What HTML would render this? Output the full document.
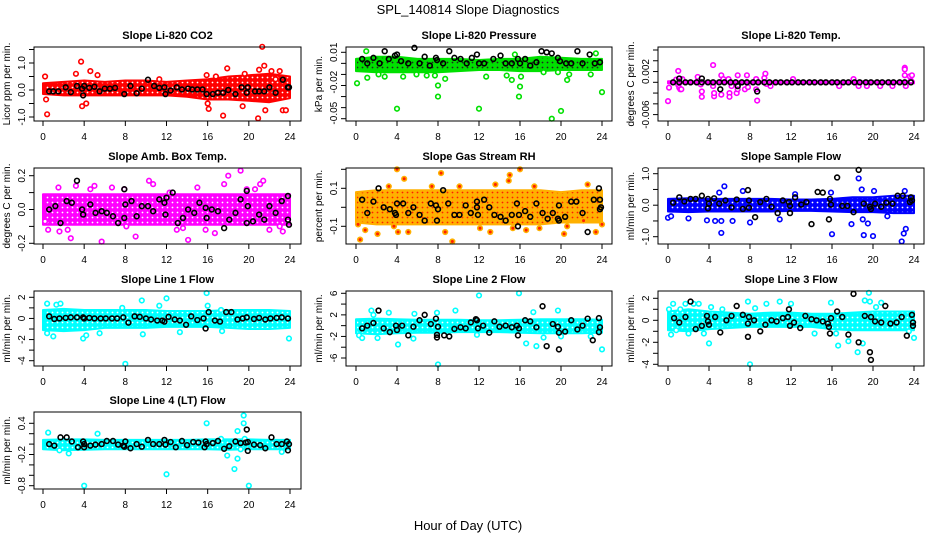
<!DOCTYPE html>
<html><head><meta charset="utf-8"><style>
html,body{margin:0;padding:0;background:#fff;}
svg{display:block;font-family:"Liberation Sans",sans-serif;}
</style></head><body>
<svg id="chart" width="936" height="540" viewBox="0 0 936 540">
<rect width="936" height="540" fill="#fff"/>
<text x="468" y="14" font-size="13" text-anchor="middle">SPL_140814  Slope Diagnostics</text>
<text x="468" y="530" font-size="13" text-anchor="middle">Hour of Day (UTC)</text>
</svg>
<script>
const bandHours=[0,2,4,6,8,10,12,14,16,18,20,22,24];
const xTicks=[0,4,8,12,16,20,24];
// Panel 1 CO2
const p1BandHi=[0.25,0.3,0.35,0.3,0.35,0.35,0.3,0.35,0.4,0.5,0.55,0.6,0.5];
const p1BandLo=[-0.15,-0.2,-0.2,-0.2,-0.2,-0.2,-0.2,-0.25,-0.35,-0.35,-0.4,-0.45,-0.3];
const p1Out=[[0.2,0.5],[0.3,-0.35],[0.4,-0.9],[3.2,0.6],[3.7,1.05],[3.8,-0.6],[4.2,-0.5],[4.6,0.7],[5.3,0.55],[11.3,0.4],[15.9,0.55],[16.0,-0.5],[16.1,-0.7],[16.8,0.5],[17.5,-0.95],[17.9,0.8],[19.4,-0.6],[19.6,0.6],[20.9,-1.05],[21.3,1.6],[21.5,0.9],[21.6,-0.75],[22.2,0.7],[23.0,0.7],[23.3,-0.75],[23.6,-0.75],[21.0,0.75],[22.6,0.4]];
const p1Black=[[0.6,-0.05],[1.0,-0.05],[1.5,-0.05],[2.2,0.1],[2.7,-0.08],[3.3,0.15],[3.8,0.05],[3.9,-0.2],[4.0,0.15],[4.5,0.08],[5.0,0.12],[5.5,-0.05],[6.0,0.05],[6.5,0.05],[7.0,0.08],[7.9,-0.15],[8.5,0.15],[9.1,-0.12],[9.6,0.05],[10.2,0.38],[10.8,0.15],[11.3,0.08],[11.8,0.1],[11.9,-0.15],[12.4,-0.02],[13,0.1],[13.5,0.02],[14.1,0.05],[14.5,0.02],[15,0.02],[15.5,0.02],[15.9,-0.15],[16.5,-0.15],[17.0,-0.1],[17.5,-0.1],[18,0.0],[18.7,-0.15],[19.3,0.1],[19.8,-0.1],[19.9,0.1],[20.6,-0.05],[21.0,-0.05],[21.5,-0.05],[22.0,0.1],[22.6,-0.1],[23.3,0.38],[23.8,0.1],[23.9,0.1]];
const p1YTicks=[-1,-0.5,0,0.5,1,1.5];
const p1YLabels=[[-1,"-1.0"],[0,"0.0"],[1,"1.0"]];
// Panel 2 Pressure
const p2BandHi=[0.004,0.006,0.006,0.004,0.004,0.004,0.003,0.004,0.004,0.006,0.005,0.004,0.004];
const p2BandLo=[-0.007,-0.008,-0.008,-0.008,-0.008,-0.007,-0.006,-0.006,-0.007,-0.007,-0.006,-0.006,-0.006];
const p2Out=[[0.1,-0.018],[1.1,-0.013],[1.0,0.011],[2.2,-0.01],[2.8,-0.012],[4.0,-0.041],[4.6,-0.012],[5.9,-0.01],[6.9,-0.011],[7.7,-0.011],[8.0,-0.02],[8.0,-0.03],[8.7,-0.014],[12.0,-0.041],[12.7,-0.012],[14.7,-0.011],[15.2,-0.015],[15.9,-0.03],[16.0,-0.021],[16.1,-0.012],[15.5,0.008],[18.3,-0.008],[19.1,-0.05],[19.7,-0.008],[20.0,-0.043],[20.6,-0.015],[20.8,-0.01],[22.9,-0.01],[23.4,0.009],[24.0,-0.026]];
const p2Black=[[0.6,0.004],[1.1,0.0],[1.7,0.005],[2.3,0.0],[2.8,0.011],[3.2,0.004],[3.8,0.007],[4.0,0.008],[4.4,0.002],[5.1,0.0],[5.7,0.014],[6.2,0.0],[6.7,0.006],[7.2,-0.002],[7.8,0.005],[7.9,0.003],[8.5,0.0],[9.1,0.011],[9.6,0.005],[10.2,0.004],[10.8,0.0],[11.3,0.005],[11.8,0.008],[12.0,0.0],[12.5,0.0],[13.4,0.004],[14.1,0.007],[14.6,0.0],[15.2,0.0],[15.8,0.004],[16.0,0.0],[16.5,0.004],[17.0,-0.002],[17.6,0.001],[18.1,0.011],[18.6,0.01],[19.1,0.009],[19.7,0.005],[19.9,0.002],[20.5,0.0],[21.0,0.0],[21.6,0.011],[22.1,0.0],[22.8,0.008],[23.3,0.0],[23.8,0.001]];
const p2YTicks=[0.01,0,-0.01,-0.02,-0.03,-0.04,-0.05];
const p2YLabels=[[0.01,"0.01"],[-0.017,"-0.02"],[-0.045,"-0.05"]];
// Panel 3 Temp
const p3BandHi=[0.0002,0.0002,0.0002,0.0002,0.0002,0.0002,0.0002,0.0002,0.0002,0.0002,0.0002,0.0002,0.0002];
const p3BandLo=[-0.0002,-0.0002,-0.0002,-0.0002,-0.0002,-0.0002,-0.0002,-0.0002,-0.0002,-0.0002,-0.0002,-0.0002,-0.0002];
const p3Out=[[0.1,-0.001],[0.0,-0.0035],[0.8,0.0005],[1.0,0.0021],[1.0,-0.0005],[1.1,-0.001],[1.2,-0.0013],[1.3,-0.0013],[1.4,0.0006],[2.9,0.001],[3.2,-0.0004],[3.3,-0.0017],[3.3,-0.0027],[4.4,0.0032],[4.4,-0.0007],[4.5,-0.0026],[4.5,-0.002],[5.2,0.0013],[5.2,-0.0023],[5.4,0.0006],[5.9,0.0006],[6.0,-0.002],[6.0,-0.0027],[6.2,-0.0007],[6.7,-0.002],[6.8,-0.0013],[6.8,0.0013],[7.5,-0.0013],[7.7,0.0013],[7.8,-0.0009],[8.6,0.0006],[8.7,-0.0034],[8.6,-0.0013],[9.4,0.0008],[9.5,0.0016],[9.6,-0.0003],[10.0,-0.0007],[12.2,0.0006],[16.7,-0.0007],[18.1,0.0006],[18.6,-0.0007],[19.4,-0.0007],[20.7,-0.0007],[21.9,-0.0007],[23.1,0.0027],[23.1,0.0024],[23.1,0.0013],[23.2,-0.0007],[23.6,0.0011],[23.8,0.0013],[23.7,0.0003]];
const p3Black=[[0.5,0],[1.1,0],[1.1,0.0007],[1.7,0],[2.2,0],[2.8,0],[3.3,0],[3.3,0.0007],[3.9,0],[4.4,0],[5.0,0],[5.1,-0.0013],[5.5,0],[6.1,0],[6.6,0],[6.8,-0.0007],[7.2,0],[7.7,0],[8.3,0],[8.7,-0.0017],[8.8,0],[9.4,0],[9.9,0],[10.5,0],[11.0,0],[11.6,0],[12.1,0],[12.7,0],[13.2,0],[13.8,0],[14.3,0],[14.9,0],[15.4,0],[16.0,0],[16.5,0],[17.1,0],[17.6,0],[18.2,0],[18.7,0],[19.3,0],[19.8,0],[20.4,0],[20.9,0],[21.5,0],[22.0,0],[22.6,0],[23.1,0],[23.7,0]];
const p3YTicks=[0.006,0.004,0.002,0,-0.002,-0.004,-0.006];
const p3YLabels=[[0.002,"0.002"],[-0.006,"-0.006"]];
// Panel 4 Amb box temp
const p4BandHi=[0.09,0.09,0.09,0.09,0.09,0.09,0.09,0.09,0.09,0.09,0.09,0.09,0.09];
const p4BandLo=[-0.09,-0.09,-0.09,-0.09,-0.09,-0.09,-0.09,-0.09,-0.09,-0.09,-0.09,-0.09,-0.09];
const p4Out=[[0.2,-0.07],[0.5,-0.12],[1.5,0.13],[1.6,-0.13],[2.4,-0.12],[2.7,-0.17],[3.2,0.14],[4.6,0.12],[5.0,0.14],[5.7,-0.19],[6.7,0.13],[7.9,0.12],[8.1,-0.1],[9.0,-0.16],[10.3,0.17],[10.7,0.15],[12.3,0.1],[13.0,-0.12],[13.6,-0.11],[14.1,-0.18],[15.0,0.13],[15.8,-0.12],[16.7,-0.14],[17.6,0.15],[18.0,0.2],[19.2,0.23],[19.8,0.12],[20.6,0.12],[21.1,0.15],[21.4,0.17],[22.0,-0.12],[23.0,-0.1],[23.3,-0.13],[23.8,-0.07]];
const p4Black=[[0.6,0.0],[1.2,0.02],[1.7,-0.08],[2.3,0.05],[2.8,0.04],[3.3,0.17],[3.8,0.0],[3.9,-0.03],[4.6,0.03],[5.1,-0.02],[5.7,-0.01],[6.2,-0.02],[6.8,-0.04],[7.3,-0.08],[7.9,0.12],[7.9,-0.05],[8.0,0.03],[8.6,0.05],[9.1,-0.04],[9.6,0.02],[10.2,0.02],[10.7,-0.01],[11.3,0.06],[11.8,0.04],[11.9,-0.03],[12.0,0.07],[12.6,0.1],[13.1,-0.08],[13.6,-0.05],[14.1,0.0],[14.7,-0.02],[15.2,0.04],[15.8,0.01],[15.9,-0.05],[16.4,0.0],[17.0,-0.01],[17.6,-0.11],[18.1,-0.06],[18.7,-0.02],[19.2,0.06],[19.8,0.11],[19.8,-0.08],[19.9,0.02],[20.4,-0.07],[21.0,-0.03],[21.5,-0.06],[22.0,0.02],[22.6,-0.02],[23.2,0.05],[23.8,0.08],[23.8,-0.06],[23.9,-0.09]];
const p4YTicks=[-0.2,-0.1,0,0.1,0.2];
const p4YLabels=[[-0.2,"-0.2"],[0,"0.0"],[0.2,"0.2"]];
// Panel 5 RH
const p5BandHi=[0.08,0.09,0.09,0.09,0.09,0.09,0.09,0.09,0.09,0.09,0.08,0.09,0.09];
const p5BandLo=[-0.08,-0.09,-0.09,-0.09,-0.09,-0.09,-0.09,-0.09,-0.09,-0.09,-0.08,-0.08,-0.08];
const p5Out=[[0.2,-0.09],[0.4,-0.17],[0.9,-0.12],[2.1,-0.14],[3.2,0.11],[3.7,-0.1],[4.0,0.2],[4.1,-0.13],[4.7,0.15],[5.1,-0.13],[7.4,0.11],[8.3,0.18],[8.7,-0.13],[9.4,-0.18],[10.1,0.11],[12.1,-0.11],[13.1,-0.13],[13.6,0.12],[14.9,0.14],[15.0,0.17],[15.3,-0.11],[16.0,0.2],[16.6,-0.12],[17.4,0.11],[17.9,-0.11],[20.3,-0.14],[20.6,-0.1],[22.2,-0.07],[22.6,0.12],[23.4,-0.13],[24.0,-0.09]];
const p5Black=[[0.6,0.04],[1.1,-0.03],[1.7,0.03],[2.2,0.1],[2.7,0.0],[3.3,-0.01],[3.8,-0.03],[3.9,-0.04],[4.0,0.02],[4.6,0.02],[5.1,-0.03],[5.6,0.0],[6.2,-0.04],[6.7,-0.07],[7.3,0.02],[7.8,0.01],[7.9,-0.07],[8.0,-0.01],[8.5,0.09],[9.0,0.02],[9.6,-0.04],[10.1,-0.04],[10.7,0.01],[11.2,-0.03],[11.8,0.03],[11.8,0.0],[11.9,-0.04],[12.5,0.04],[13.0,0.0],[13.5,-0.04],[14.1,-0.05],[14.6,-0.07],[15.2,-0.04],[15.7,0.02],[15.8,-0.1],[15.9,-0.04],[16.5,-0.02],[17.0,-0.05],[17.6,0.02],[18.2,-0.03],[18.7,-0.06],[19.2,-0.03],[19.7,-0.06],[19.8,0.01],[19.8,-0.07],[20.4,-0.05],[21.0,0.03],[21.5,0.03],[22.1,-0.03],[22.6,-0.13],[23.2,0.04],[23.7,0.1],[23.8,0.04],[23.8,-0.01],[23.9,0.0]];
const p5YTicks=[-0.1,0,0.1,0.2];
const p5YLabels=[[-0.1,"-0.1"],[0.1,"0.1"]];
// Panel 6 Sample flow
const p6BandHi=[0.2,0.22,0.2,0.2,0.2,0.2,0.18,0.18,0.2,0.25,0.25,0.3,0.3];
const p6BandLo=[-0.2,-0.22,-0.2,-0.2,-0.2,-0.2,-0.18,-0.18,-0.2,-0.22,-0.22,-0.25,-0.25];
const p6Out=[[0.0,-0.4],[0.3,-0.35],[2.0,-0.42],[3.8,-0.48],[4.6,-0.5],[5.2,-0.5],[5.2,-0.88],[5.5,0.6],[5.0,0.4],[6.3,-0.5],[7.3,0.45],[8.0,-0.55],[10.9,-0.45],[12.4,0.35],[15.9,0.4],[16.0,-0.92],[17.9,-0.6],[18.6,0.85],[18.9,0.5],[19.0,-0.45],[19.1,-0.95],[19.5,-0.58],[20.0,-0.98],[20.1,0.45],[21.4,-0.35],[22.8,-1.15],[23.0,-0.9],[23.2,-0.75],[23.1,0.45]];
const p6Black=[[0.5,0.08],[1.1,0.25],[1.6,0.12],[2.2,0.2],[2.7,0.2],[3.3,0.3],[3.9,0.2],[3.9,-0.1],[4.0,0.05],[4.5,0.22],[5.0,0.05],[5.6,0.15],[6.2,-0.07],[6.7,0.18],[7.3,-0.12],[7.8,0.48],[7.9,0.15],[7.9,-0.08],[8.5,-0.38],[9.0,0.1],[9.6,0.2],[10.1,-0.05],[10.7,-0.25],[11.2,0.15],[11.8,0.1],[11.9,-0.25],[11.9,-0.02],[12.4,0.25],[13.0,0.02],[13.5,0.1],[14.0,-0.6],[14.6,0.42],[15.1,0.4],[15.7,-0.45],[15.8,0.2],[15.9,0.02],[16.5,0.88],[17.0,-0.02],[17.5,-0.02],[18.1,-0.22],[18.6,1.12],[19.1,0.05],[19.7,-0.05],[19.8,-0.12],[20.2,0.05],[20.8,-0.05],[21.3,0.08],[21.9,0.05],[22.4,0.3],[22.9,0.3],[23.6,0.1],[23.7,0.25],[23.8,0.15]];
const p6YTicks=[-1,-0.5,0,0.5,1];
const p6YLabels=[[-1,"-1.0"],[0,"0.0"],[1,"1.0"]];
// Panel 7 Line 1
const p7BandHi=[0.8,0.9,0.8,0.8,0.8,0.8,0.7,0.7,0.7,0.8,0.8,0.8,0.7];
const p7BandLo=[-1.1,-1.2,-1.1,-0.9,-0.9,-0.9,-0.8,-0.8,-0.8,-0.9,-1.0,-1.0,-0.9];
const p7Out=[[0.4,1.4],[0.4,-1.4],[1.0,-1.7],[1.3,1.3],[1.7,1.4],[3.9,-1.9],[4.2,-1.6],[5.5,-1.4],[7.7,1.0],[8.0,-4.3],[9.6,1.7],[9.7,-1.5],[11.3,1.2],[12.0,1.9],[13.3,-1.3],[15.9,2.4],[16.0,1.2],[17.4,-1.2],[17.3,0.8],[23.9,-1.9]];
const p7Black=[[0.6,0.2],[1.1,-0.05],[1.6,0.0],[2.2,0.05],[2.7,0.1],[3.3,0.1],[3.9,0.1],[4.0,0.0],[4.5,0.05],[5.0,0.0],[5.6,0.0],[6.1,0.0],[6.7,0.0],[7.2,0.0],[7.8,0.1],[8.3,-0.4],[8.9,0.2],[9.4,0.15],[10.0,0.0],[10.5,-0.1],[11.1,-0.2],[11.6,-0.2],[11.8,-0.3],[12.2,0.15],[12.8,-0.1],[13.3,-0.2],[13.9,-0.6],[14.4,0.2],[15.0,-0.15],[15.6,0.0],[15.8,-0.95],[16.1,0.6],[16.7,-0.2],[17.2,-0.3],[17.8,0.6],[18.3,0.6],[18.9,-0.1],[19.4,0.0],[19.8,0.1],[20.5,-0.05],[21.0,0.05],[21.6,-0.1],[22.1,0.0],[22.7,0.05],[23.2,0.1],[23.8,0.0]];
const p7YTicks=[-4,-3,-2,-1,0,1,2];
const p7YLabels=[[-4,"-4"],[-2,"-2"],[0,"0"],[2,"2"]];
// Panel 8 Line 2
const p8BandHi=[1.2,1.3,1.2,1.1,1.1,1.1,1.0,1.0,1.1,1.2,1.2,1.2,1.1];
const p8BandLo=[-1.4,-1.6,-1.4,-1.3,-1.3,-1.2,-1.2,-1.2,-1.3,-1.4,-1.4,-1.4,-1.3];
const p8Out=[[0.3,-1.8],[0.6,-2.3],[1.5,2.8],[1.7,2.0],[2.1,-2.3],[3.2,2.4],[4.1,-3.5],[5.6,-2.4],[5.7,2.2],[7.9,2.4],[8.0,-7.2],[9.7,2.8],[11.8,-1.7],[12.0,5.6],[15.9,6.0],[16.6,-3.3],[17.3,2.5],[17.6,-3.8],[18.3,-2.2],[19.7,2.8],[20.0,-2.0],[22.9,-2.0],[24.0,-4.4]];
const p8Black=[[0.6,-0.5],[1.1,0.0],[1.7,0.5],[2.2,2.8],[2.7,-0.5],[3.3,-1.2],[3.9,0.0],[4.0,-0.8],[4.5,0.0],[5.1,-1.8],[5.6,-0.2],[6.2,1.0],[6.7,2.0],[7.3,0.3],[7.8,1.3],[7.9,-1.7],[7.9,-2.2],[8.0,-0.2],[8.6,-1.8],[9.1,-2.0],[9.6,-0.6],[10.2,-0.3],[10.7,-0.5],[11.2,0.6],[11.7,1.2],[11.8,1.0],[11.9,-0.5],[12.4,0.0],[13.0,-1.3],[13.5,0.8],[14.0,-0.2],[14.6,0.0],[15.2,-0.3],[15.7,0.0],[15.8,-1.8],[15.9,-0.5],[16.5,1.0],[17.0,0.8],[17.6,-0.3],[18.2,3.6],[18.6,-3.8],[19.2,0.3],[19.7,-0.2],[19.8,-1.3],[19.8,-4.4],[20.4,-1.1],[21.0,1.0],[21.6,-0.7],[22.1,0.0],[22.6,1.3],[23.1,-2.7],[23.7,1.4],[23.7,-1.2],[23.8,-0.3]];
const p8YTicks=[-6,-4,-2,0,2,4,6];
const p8YLabels=[[-6,"-6"],[-2,"-2"],[2,"2"],[6,"6"]];
// Panel 9 Line 3
const p9BandHi=[0.8,1.0,0.8,0.7,0.6,0.7,0.7,0.6,0.6,0.7,0.8,0.8,0.8];
const p9BandLo=[-0.9,-1.0,-0.8,-0.7,-0.6,-0.6,-0.6,-0.6,-0.8,-0.9,-0.9,-0.9,-0.9];
const p9Out=[[0.1,1.0],[0.3,-1.3],[0.5,1.5],[0.8,-0.9],[1.2,1.0],[1.7,1.5],[2.0,-1.2],[2.5,1.5],[3.0,1.5],[3.5,-1.2],[4.0,-2.1],[4.2,1.2],[5.3,1.0],[7.8,1.7],[8.0,-4.0],[8.5,1.1],[9.6,1.5],[10.9,1.7],[12.0,1.5],[14.3,-1.2],[15.9,1.6],[16.4,-1.2],[16.6,-2.3],[17.6,-1.9],[18.5,-2.9],[19.0,-2.1],[19.2,1.8],[19.6,2.5],[19.7,1.7],[20.3,1.2],[20.8,1.6],[23.5,-1.0],[24.0,-1.6]];
const p9Black=[[0.6,0.2],[1.1,-0.2],[1.7,0.3],[2.2,1.7],[2.7,-0.8],[3.3,-0.5],[3.8,0.4],[3.9,-0.1],[4.0,-0.4],[4.6,0.3],[5.1,-1.1],[5.7,0.0],[6.2,0.4],[6.7,1.3],[7.3,0.5],[7.8,-0.3],[7.8,-1.5],[7.9,0.3],[8.4,0.0],[9.0,-1.0],[9.5,-0.4],[10.1,0.0],[10.6,-0.1],[11.2,0.2],[11.7,0.3],[11.8,1.0],[11.9,-0.5],[12.3,-0.2],[12.9,-0.7],[13.4,0.4],[14.0,0.1],[14.5,0.0],[15.1,-0.1],[15.6,-0.3],[15.7,-0.6],[15.8,-1.2],[15.9,0.2],[16.5,0.8],[17.0,0.3],[17.6,-1.3],[18.1,2.4],[18.6,-2.0],[19.2,0.4],[19.7,-2.9],[19.8,-3.6],[19.8,0.3],[20.2,-0.1],[20.8,-0.2],[21.2,1.3],[21.7,-0.3],[22.3,-0.2],[22.8,0.3],[23.3,-1.4],[23.8,0.5],[23.9,-0.2],[23.9,-0.5]];
const p9YTicks=[-4,-3,-2,-1,0,1,2];
const p9YLabels=[[-4,"-4"],[-2,"-2"],[0,"0"],[2,"2"]];
// Panel 10 Line 4
const p10BandHi=[0.08,0.09,0.09,0.08,0.08,0.08,0.08,0.08,0.09,0.09,0.09,0.08,0.08];
const p10BandLo=[-0.1,-0.12,-0.11,-0.1,-0.1,-0.1,-0.1,-0.1,-0.1,-0.11,-0.1,-0.1,-0.1];
const p10Out=[[0.5,0.22],[1.6,-0.12],[2.5,-0.18],[4.0,-0.8],[5.3,0.2],[12.0,-0.58],[15.9,0.4],[17.3,0.1],[17.9,-0.22],[18.6,-0.48],[18.9,0.25],[18.9,-0.28],[19.5,0.4],[19.5,0.55],[19.6,0.1],[20.0,-0.8],[19.2,-0.1],[23.2,-0.15]];
const p10Black=[[0.6,0.0],[1.1,-0.03],[1.7,0.13],[2.3,0.13],[2.8,0.05],[3.4,-0.06],[3.9,0.05],[4.0,-0.06],[4.0,0.0],[4.6,-0.03],[5.1,-0.01],[5.7,0.0],[6.2,0.06],[6.8,0.06],[7.3,-0.01],[7.8,-0.03],[7.9,-0.05],[8.0,0.05],[8.5,-0.08],[9.1,0.0],[9.6,-0.05],[10.2,0.08],[10.7,0.0],[11.3,0.0],[11.8,0.08],[11.9,-0.01],[12.4,0.04],[12.9,-0.06],[13.5,0.06],[14.0,-0.02],[14.6,0.04],[15.1,0.03],[15.7,-0.06],[15.8,0.05],[15.9,0.0],[16.5,0.02],[17.0,0.06],[17.6,-0.09],[18.1,-0.04],[18.7,0.05],[19.2,0.02],[19.7,0.03],[19.8,0.28],[19.9,-0.13],[19.9,0.04],[20.5,-0.01],[21.1,-0.02],[21.6,-0.08],[22.2,0.13],[22.7,0.0],[23.2,0.0],[23.7,0.05],[23.8,-0.12],[23.9,0.0]];
const p10YTicks=[0.4,0.2,0,-0.2,-0.4,-0.6,-0.8];
const p10YLabels=[[0.4,"0.4"],[-0.2,"-0.2"],[-0.8,"-0.8"]];

const NS="http://www.w3.org/2000/svg";
const svg=document.getElementById('chart');
function mk(tag,attrs,parent){const e=document.createElementNS(NS,tag);for(const k in attrs)e.setAttribute(k,attrs[k]);(parent||svg).appendChild(e);return e;}
const cols=[{l:34,r:301,x0:43,x24:290},{l:346,r:612,x0:356,x24:602},{l:658,r:924,x0:668,x24:914}];
const rows=[{t:47,b:121},{t:168,b:244},{t:291,b:366},{t:412,b:489}];
const panels=[
{id:'co2',title:'Slope Li-820 CO2',ylab:'Licor ppm per min.',c:0,r:0,color:'#ff0000',dot:'#fff',hi:p1BandHi,lo:p1BandLo,out:p1Out,blk:p1Black,yt:p1YTicks,yl:p1YLabels,v1:1,p1:63,v2:-1,p2:117},
{id:'pressure',title:'Slope Li-820 Pressure',ylab:'kPa per min.',c:1,r:0,color:'#00e000',dot:'#222',hi:p2BandHi,lo:p2BandLo,out:p2Out,blk:p2Black,yt:p2YTicks,yl:p2YLabels,v1:0.01,p1:52.3,v2:-0.05,p2:118.7},
{id:'temp',title:'Slope Li-820 Temp.',ylab:'degrees C per min.',c:2,r:0,color:'#ff00ff',dot:'#ff00ff',hi:p3BandHi,lo:p3BandLo,out:p3Out,blk:p3Black,yt:p3YTicks,yl:p3YLabels,v1:0,p1:82.3,v2:0.006,p2:50},
{id:'amb-box-temp',title:'Slope Amb. Box Temp.',ylab:'degrees C per min.',c:0,r:1,color:'#ff00ff',dot:'#fff',hi:p4BandHi,lo:p4BandLo,out:p4Out,blk:p4Black,yt:p4YTicks,yl:p4YLabels,v1:0.2,p1:175.7,v2:-0.2,p2:243.3},
{id:'gas-stream-rh',title:'Slope Gas Stream RH',ylab:'percent per min.',c:1,r:1,color:'#ffb000',dot:'#ff2000',hi:p5BandHi,lo:p5BandLo,out:p5Out,blk:p5Black,yt:p5YTicks,yl:p5YLabels,v1:0.1,p1:188.3,v2:-0.1,p2:226.3},
{id:'sample-flow',title:'Slope Sample Flow',ylab:'ml/min per min.',c:2,r:1,color:'#0000ff',dot:'#fff',hi:p6BandHi,lo:p6BandLo,out:p6Out,blk:p6Black,yt:p6YTicks,yl:p6YLabels,v1:1,p1:173.7,v2:-1,p2:236.7},
{id:'line1-flow',title:'Slope Line 1 Flow',ylab:'ml/min per min.',c:0,r:2,color:'#00ffff',dot:'#fff',hi:p7BandHi,lo:p7BandLo,out:p7Out,blk:p7Black,yt:p7YTicks,yl:p7YLabels,v1:2,p1:297.3,v2:-4,p2:360.7},
{id:'line2-flow',title:'Slope Line 2 Flow',ylab:'ml/min per min.',c:1,r:2,color:'#00ffff',dot:'#fff',hi:p8BandHi,lo:p8BandLo,out:p8Out,blk:p8Black,yt:p8YTicks,yl:p8YLabels,v1:6,p1:293.3,v2:-6,p2:358},
{id:'line3-flow',title:'Slope Line 3 Flow',ylab:'ml/min per min.',c:2,r:2,color:'#00ffff',dot:'#fff',hi:p9BandHi,lo:p9BandLo,out:p9Out,blk:p9Black,yt:p9YTicks,yl:p9YLabels,v1:2,p1:298.3,v2:-4,p2:364.3},
{id:'line4-flow',title:'Slope Line 4 (LT) Flow',ylab:'ml/min per min.',c:0,r:3,color:'#00ffff',dot:'#fff',hi:p10BandHi,lo:p10BandLo,out:p10Out,blk:p10Black,yt:p10YTicks,yl:p10YLabels,v1:0.4,p1:423.3,v2:-0.8,p2:485.7}
];
const defs=mk('defs',{});

panels.forEach((p,pi)=>{
  const C=cols[p.c],R=rows[p.r];
  const xs=h=>C.x0+(C.x24-C.x0)*h/24;
  const ys=v=>p.p1+(v-p.v1)*(p.p2-p.p1)/(p.v2-p.v1);
  const pat=mk('pattern',{id:'pat'+pi,width:5,height:5,patternUnits:'userSpaceOnUse'},defs);
  mk('rect',{width:5,height:5,fill:p.color},pat);
  mk('circle',{cx:2.5,cy:2.5,r:0.9,fill:p.dot},pat);
  const g=mk('g',{});
  
  
  const cx=(C.l+C.r)/2;
  const t=mk('text',{x:cx,y:R.t-8,'font-size':11,'font-weight':'bold','text-anchor':'middle'},g);
  t.textContent=p.title;
  
  
  let d='';
  bandHours.forEach((h,i)=>{d+=(i?'L':'M')+xs(h).toFixed(1)+','+ys(p.hi[i]).toFixed(1);});
  for(let i=bandHours.length-1;i>=0;i--)d+='L'+xs(bandHours[i]).toFixed(1)+','+ys(p.lo[i]).toFixed(1);
  const band=mk('path',{d:d+'Z',fill:'url(#pat'+pi+')',stroke:p.color,'stroke-width':2,'stroke-linejoin':'round'},g);
  
  
  p.out.forEach(o=>{
    const c=mk('circle',{cx:xs(o[0]),cy:ys(o[1]),r:2.3,fill:p.dot==='#ff2000'?'#ff2000':'#fff',stroke:p.color,'stroke-width':1.6},g);
    
    
  });
  p.blk.forEach(o=>{
    const c=mk('circle',{cx:xs(o[0]),cy:ys(o[1]),r:2.4,fill:'none',stroke:'#000','stroke-width':1.6},g);
    
    
  });
  const box=mk('rect',{x:C.l,y:R.t,width:C.r-C.l,height:R.b-R.t,fill:'none',stroke:'#000','stroke-width':1},g);
  
  
  mk('line',{x1:xs(xTicks[0]),x2:xs(xTicks[xTicks.length-1]),y1:R.b,y2:R.b,stroke:'#000'},g);
  xTicks.forEach(h=>{
    mk('line',{x1:xs(h),x2:xs(h),y1:R.b,y2:R.b+5,stroke:'#000'},g);
    const tl=mk('text',{x:xs(h),y:R.b+19,'font-size':10,'text-anchor':'middle'},g);
    tl.textContent=h;
    
    
  });
  p.yt.forEach(v=>{mk('line',{x1:C.l-5,x2:C.l,y1:ys(v),y2:ys(v),stroke:'#000'},g);});
  p.yl.forEach(l=>{
    const yy=ys(l[0]);
    const tl=mk('text',{x:C.l-9,y:yy,'font-size':10,'text-anchor':'middle',transform:`rotate(-90 ${C.l-9} ${yy})`},g);
    tl.textContent=l[1];
    
    
  });
  const my=(R.t+R.b)/2;
  const yl=mk('text',{x:C.l-24,y:my,'font-size':10,'text-anchor':'middle',transform:`rotate(-90 ${C.l-24} ${my})`},g);
  yl.textContent=p.ylab;
  
  
});
</script>
</body></html>
